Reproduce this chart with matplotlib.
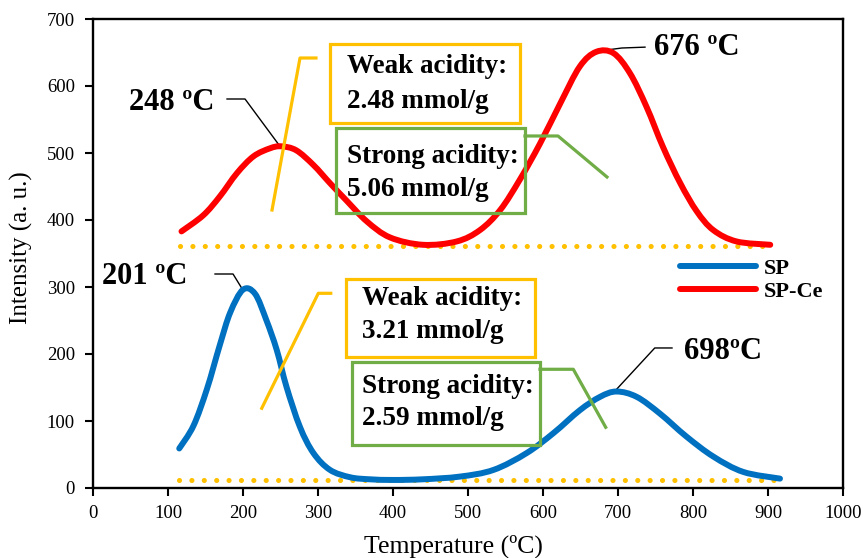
import numpy as np
import matplotlib
matplotlib.use('Agg')
from matplotlib import pyplot as plt
from matplotlib.patches import Rectangle, PathPatch
from matplotlib.path import Path

plt.rcParams['font.family'] = ['Liberation Serif', 'DejaVu Serif']

# Dane
sp_temp = [115, 134, 152, 169, 183, 200, 216, 231, 245, 258, 276, 294, 316, 343, 369, 400, 440,
           489, 534, 578, 614, 649, 676, 698, 725, 756, 791, 827, 867, 916]
sp_int = [59, 93, 148, 213, 262, 296, 290, 251, 206, 151, 91, 52, 27, 16, 13, 12, 13,
          17, 27, 52, 82, 116, 136, 144, 136, 111, 77, 47, 24, 14]

spce_temp = [118, 147, 169, 192, 214, 236, 251, 271, 294, 316, 338, 365, 396, 440, 485,
             516, 543, 569, 596, 623, 649, 671, 694, 716, 738, 760, 783, 805, 827, 858, 903]
spce_int = [383, 407, 435, 470, 495, 507, 510, 504, 482, 455, 429, 398, 374, 363, 368,
            385, 415, 460, 514, 574, 629, 651, 649, 619, 569, 509, 455, 413, 385, 368, 363]

sp_base_temp = [115, 918]
sp_base_int = [12, 12]
spce_base_temp = [116, 900]
spce_base_int = [361, 361]

BLUE = '#0070C0'
RED = '#FF0000'
YELLOW = '#FFC000'
GREEN = '#70AD47'


# Wygładzona linia jak w Excelu (krzywe Beziera przez punkty)
def smoothPath(xs, ys):
    p = np.column_stack([xs, ys]).astype(float)
    ext = np.vstack([p[0], p, p[-1]])
    verts = [p[0]]
    codes = [Path.MOVETO]
    for i in range(len(p) - 1):
        p0, p1, p2, p3 = ext[i], ext[i + 1], ext[i + 2], ext[i + 3]
        verts += [p1 + (p2 - p0) / 6, p2 - (p3 - p1) / 6, p2]
        codes += [Path.CURVE4] * 3
    return Path(verts, codes)


fig = plt.figure(figsize=(8.63, 5.58), dpi=100)
ax = fig.add_axes([93 / 863, 70 / 558, 750 / 863, 469 / 558])

# Linie bazowe (kropkowane)
dot = (0, (0.01, 2.4))
ax.plot(sp_base_temp, sp_base_int, color=YELLOW, lw=3.7, linestyle=dot, dash_capstyle='round', zorder=2)
ax.plot(spce_base_temp, spce_base_int, color=YELLOW, lw=3.7, linestyle=dot, dash_capstyle='round', zorder=2)

# Krzywe TPD
for xs, ys, col in [(sp_temp, sp_int, BLUE), (spce_temp, spce_int, RED)]:
    ax.add_patch(PathPatch(smoothPath(xs, ys), fill=False, edgecolor=col, lw=4.3,
                           capstyle='round', joinstyle='round', zorder=3))

# Etykiety pików
bold = dict(fontweight='bold', ha='center', va='center', fontsize=22)
ax.text(105, 576, '248 ºC', **bold)
ax.plot([178.7, 202.7, 248], [580.6, 580.6, 512], color='black', lw=1)
ax.text(805, 657, '676 ºC', **bold)
ax.plot([673, 705, 736], [652, 656.7, 658], color='black', lw=1)
ax.text(69, 315, '201 ºC', **bold)
ax.plot([162.7, 186.7, 199], [319.4, 319.4, 297], color='black', lw=1)
ax.text(840, 203, '698ºC', **bold)
ax.plot([772, 749, 697], [209, 209, 146], color='black', lw=1)

# Ramki z kwasowością
boxes = [
    (316, 545.2, 253.3, 117.5, YELLOW, 'Weak acidity:', '2.48 mmol/g', 338.7, 628.8, 576.6),
    (324, 410.9, 252, 126, GREEN, 'Strong acidity:', '5.06 mmol/g', 338.7, 494.5, 444.8),
    (337.3, 195, 252, 116.5, YELLOW, 'Weak acidity:', '3.21 mmol/g', 358.3, 283.1, 233.3),
    (345, 64.2, 251, 124.3, GREEN, 'Strong acidity:', '2.59 mmol/g', 358.3, 151.2, 104),
]
for x0, y0, w, h, col, t1, t2, tx, ty1, ty2 in boxes:
    ax.add_patch(Rectangle((x0, y0), w, h, fill=False, edgecolor=col, lw=2.3, zorder=4))
    ax.text(tx, ty1, t1, fontsize=19.5, fontweight='bold', va='center', ha='left', zorder=5)
    ax.text(tx, ty2, t2, fontsize=19.5, fontweight='bold', va='center', ha='left', zorder=5)

# Linie wskazujące
ax.plot([238.7, 276, 297.3], [414.9, 641.8, 641.8], color=YELLOW, lw=2.3, zorder=4)
ax.plot([576, 620, 685.3], [525.4, 525.4, 464.2], color=GREEN, lw=2.3, zorder=4)
ax.plot([225, 300.4, 317], [119, 290.6, 290.6], color=YELLOW, lw=2.3, zorder=4)
ax.plot([596, 640.4, 683.6], [177.2, 177.2, 90.6], color=GREEN, lw=2.3, zorder=4)

# Osie
ax.set_xlim(0, 1000)
ax.set_ylim(0, 700)
ax.set_xticks(np.arange(0, 1001, 100))
ax.set_yticks(np.arange(0, 701, 100))
ax.tick_params(direction='out', length=6, width=1.5, labelsize=13.5)
ax.tick_params(axis='y', pad=7)
ax.tick_params(axis='x', pad=6)
for s in ax.spines.values():
    s.set_linewidth(1.7)

ax.set_xlabel('Temperature (ºC)', fontsize=18.5, va='center')
ax.xaxis.set_label_coords(0.481, -0.125)
ax.set_ylabel('Intensity (a. u.)', fontsize=18, va='center')
ax.yaxis.set_label_coords(-0.095, 0.512)

# Legenda
legend = [
    plt.Line2D([0], [0], color=BLUE, lw=4.3, solid_capstyle='round', label='SP'),
    plt.Line2D([0], [0], color=RED, lw=4.3, solid_capstyle='round', label='SP-Ce'),
]
ax.legend(handles=legend, loc='upper left', bbox_to_anchor=(0.783, 0.49), frameon=False, borderpad=0,
          borderaxespad=0, handlelength=3.4, handletextpad=0.35, labelspacing=0.1,
          prop={'weight': 'bold', 'size': 16})

fig.savefig('out.png', dpi=100)
